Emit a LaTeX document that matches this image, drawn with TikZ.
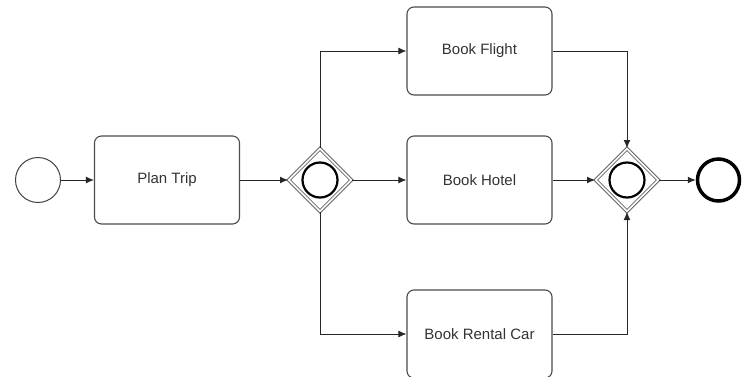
\documentclass[tikz,border=0pt]{standalone}
\usepackage{fontspec}
\setmainfont{Liberation Sans}
\usetikzlibrary{shapes.geometric,arrows.meta}
\begin{document}
\begin{tikzpicture}[x=1pt,y=-1pt,
  task/.style={draw=black!70,line width=1.1pt,rounded corners=7pt,minimum width=145pt,minimum height=88pt,inner sep=0pt,font=\fontsize{15}{17}\selectfont,text=black!80},
  gate/.style={diamond,draw=black!60,double=white,double distance=1.5pt,line width=1pt,minimum width=63pt,minimum height=63pt,inner sep=0pt},
  ring/.style={circle,draw=black,line width=2.2pt,minimum size=35pt,inner sep=0pt},
  flow/.style={draw=black!85,line width=1pt,-{Latex[length=8pt,width=7pt]}},
  line/.style={draw=black!85,line width=1pt}]
\useasboundingbox (0,0) rectangle (745,376);
\node[circle,draw=black!75,line width=1pt,minimum size=45pt,inner sep=0pt] (start) at (38,180) {};
\node[task] (plan) at (167,180) {Plan Trip};
\node[gate] (g1) at (320,180) {};
\node[ring] (g1c) at (320,180) {};
\node[task] (flight) at (479.5,51) {Book Flight};
\node[task] (hotel) at (479.5,180) {Book Hotel};
\node[task] (car) at (479.5,334) {Book Rental Car};
\node[gate] (g2) at (627,180) {};
\node[ring] (g2c) at (627,180) {};
\node[circle,draw=black,line width=3.5pt,minimum size=42pt,inner sep=0pt] (end) at (718.5,180) {};
\draw[flow] (start) -- (plan);
\draw[flow] (plan) -- (g1);
\draw[flow] (g1.north) |- (flight.west);
\draw[flow] (g1) -- (hotel);
\draw[flow] (g1.south) |- (car.west);
\draw[flow] (flight.east) -| (g2.north);
\draw[flow] (hotel) -- (g2);
\draw[flow] (car.east) -| (g2.south);
\draw[flow] (g2) -- (end);
\end{tikzpicture}
\end{document}
